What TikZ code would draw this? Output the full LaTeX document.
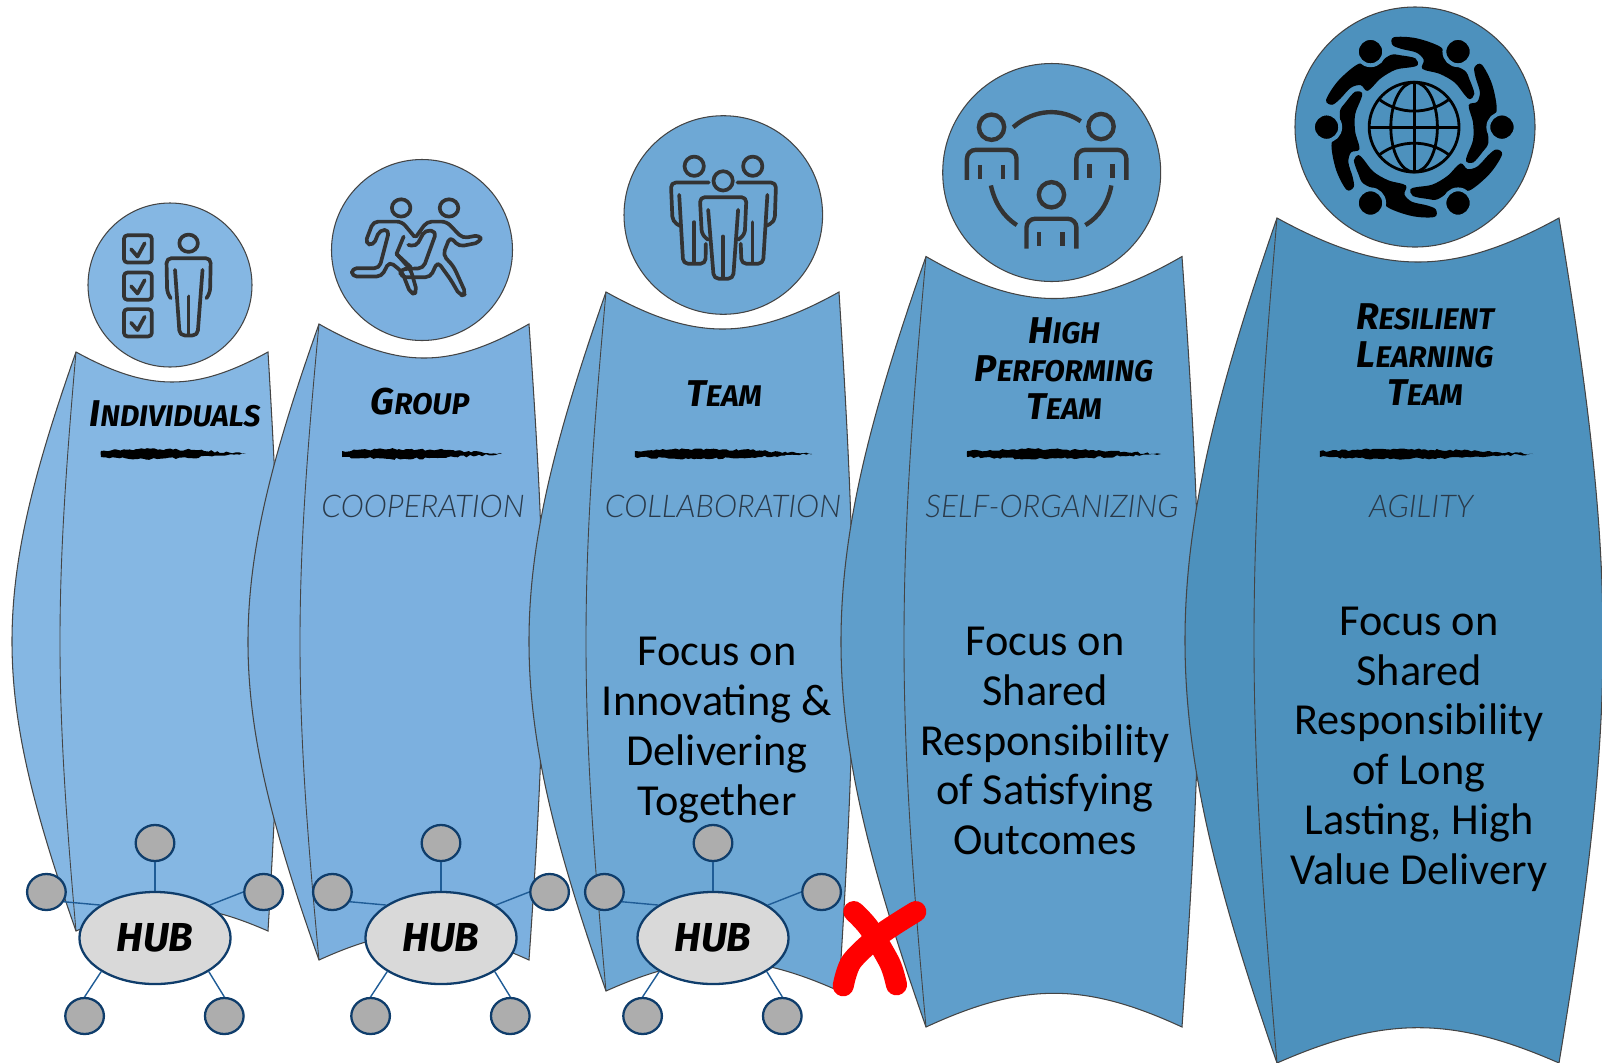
\documentclass[tikz,border=0pt]{standalone}
\usepackage{fontspec}
\usepackage{xcolor}
\usepackage{tikz}
\usetikzlibrary{shapes.geometric,decorations.pathmorphing}
\setmainfont{Carlito}
\newfontfamily\brushfont{Fira Sans}
\newfontfamily\lightfont{Lato Light}
\definecolor{panelA}{HTML}{85B7E3}
\definecolor{panelB}{HTML}{7CB0DF}
\definecolor{panelC}{HTML}{6EA8D5}
\definecolor{panelD}{HTML}{5F9ECB}
\definecolor{panelE}{HTML}{4D91BD}
\definecolor{edge}{HTML}{444444}
\definecolor{navy}{HTML}{0F3D6B}
\definecolor{spoke}{HTML}{1F5C96}
\definecolor{hubfill}{HTML}{D9D9D9}
\definecolor{satfill}{HTML}{ADADAD}
\definecolor{icon}{HTML}{333333}
\definecolor{subtext}{HTML}{2A3A4A}
\tikzset{
  wrap/.style={draw=edge, line width=0.3pt, fill=#1},
  fold/.style={draw=edge, line width=0.25pt},
  disc/.style={draw=edge, line width=0.3pt, fill=#1},
  iconline/.style={draw=icon, line width=1.05pt, line cap=round, line join=round},
  iconbody/.style={iconline, rounded corners=1.4pt},
  iconfat/.style={draw=icon, line width=1.25pt},
  globe/.style={draw=black, line width=0.8pt},
  armshape/.style={fill=black},
  fighead/.style={draw=panelE, line width=1.1pt, fill=black},
  hubnode/.style={ellipse, draw=navy, line width=0.65pt, fill=hubfill, inner sep=0pt,
    minimum width=1.51cm, minimum height=0.92cm, font=\brushfont\bfseries\itshape\fontsize{11.5}{12}\selectfont},
  satnode/.style={ellipse, draw=navy, line width=0.65pt, fill=satfill, inner sep=0pt,
    minimum width=0.386cm, minimum height=0.36cm},
  spokeline/.style={draw=spoke, line width=0.4pt},
  ttl/.style={align=center, text=black, inner sep=0pt, font=\brushfont\bfseries\itshape\fontsize{10.6}{10.8}\selectfont},
  sub/.style={text=subtext, inner sep=0pt, font=\lightfont\itshape\fontsize{8.9}{11}\selectfont},
  body/.style={align=center, text=black, inner sep=0pt, font=\fontsize{12.6}{14.15}\selectfont},
  redx/.style={draw=red, line width=6pt, line cap=round}
}
\newcommand{\brushcaps}[2]{#1{\fontsize{8.5}{10.8}\selectfont #2}}
% style, x left, x right, y top, y bottom, left bulge, fold bulge, right bulge, dip
\newcommand{\panel}[9]{%
  \draw[wrap=#1] (#2,#4)
    .. controls ({#2+(#3-#2)*.38},{#4+#9*4/3}) and ({#3-(#3-#2)*.38},{#4+#9*4/3}) .. (#3,#4)
    .. controls ({#3+(#8-#3)*4/3},{#4+(#5-#4)*.42}) and ({#3+(#8-#3)*4/3},{#5-(#5-#4)*.42}) .. (#3,#5)
    .. controls ({#3-(#3-#2)*.38},{#5-#9*1.07}) and ({#2+(#3-#2)*.38},{#5-#9*1.07}) .. (#2,#5)
    .. controls ({#2+(#6-#2)*4/3},{#5-(#5-#4)*.42}) and ({#2+(#6-#2)*4/3},{#4+(#5-#4)*.42}) .. cycle;
  \draw[fold] (#2,#4)
    .. controls ({#2+(#7-#2)*4/3},{#4+(#5-#4)*.42}) and ({#2+(#7-#2)*4/3},{#5-(#5-#4)*.42}) .. (#2,#5);
}
% the rough black stroke under a title
\newcommand{\scribble}[2]{%
  \fill[black, decorate, decoration={random steps, segment length=0.9pt, amplitude=0.3pt}]
    (#1,451) -- ({#1+(#2-#1)*.3},449) -- ({#1+(#2-#1)*.65},450) -- (#2,454)
    -- ({#1+(#2-#1)*.6},458) -- ({#1+(#2-#1)*.3},459) -- (#1,457) -- cycle;
}
% hub name, x of the hub
\newcommand{\hubstar}[2]{%
  \node[hubnode] (hub#1) at (#2,938) {HUB};
  \node[satnode] (top#1) at (#2,843) {};
  \node[satnode] (left#1) at ({#2-108.6},892) {};
  \node[satnode] (right#1) at ({#2+108.6},892) {};
  \node[satnode] (lowl#1) at ({#2-70.4},1016) {};
  \node[satnode] (lowr#1) at ({#2+69.3},1016) {};
  \draw[spokeline] (top#1.270) -- (hub#1.90);
  \draw[spokeline] (left#1.-29) -- (hub#1.149);
  \draw[spokeline] (right#1.180) -- (hub#1.31);
  \draw[spokeline] (lowl#1.90) -- (hub#1.212);
  \draw[spokeline] (lowr#1.90) -- (hub#1.328);
}
% one arm of the ring round the globe, turned by #1
\newcommand{\ringarm}[1]{%
  \fill[armshape, rotate around={#1:(433,382)}] plot[smooth cycle, tension=.55] coordinates {(372,112) (440,115) (515,143) (535,185)
    (585,212) (600,240) (614,282) (600,298) (585,285) (555,248) (510,222) (458,207) (462,180) (440,158) (395,147) (368,135)};
}
\begin{document}
\begin{tikzpicture}[x=0.01cm,y=-0.01cm]
  \useasboundingbox (0,0) rectangle (1602,1063);
  \pgfmathsetseed{7}

  \panel{panelA}{76}{268}{352}{931}{12}{60}{279}{30}
  \panel{panelB}{319}{529}{324}{960}{248}{300}{543}{34}
  \panel{panelC}{606}{839}{292}{991}{529}{586}{853}{37}
  \panel{panelD}{926}{1182}{256.5}{1027}{841}{904}{1199}{42}
  \panel{panelE}{1277}{1559}{218}{1063}{1185}{1254}{1603}{44}

  \draw[disc=panelA] (170,285) circle (82);
  \draw[disc=panelB] (422,250) circle (90.5);
  \draw[disc=panelC] (723.3,215) circle (99.3);
  \draw[disc=panelD] (1051.7,172.5) circle (109);
  \draw[disc=panelE] (1415,127) circle (120);

  % checklist and person
  \begin{scope}[shift={(0,180)},x=0.00357cm,y=-0.00333cm]
    \draw[iconline, rounded corners=1pt] (347,166) rectangle (425,248);
    \draw[iconline, rounded corners=1pt] (347,278) rectangle (425,360);
    \draw[iconline, rounded corners=1pt] (347,388) rectangle (425,470);
    \draw[iconline] (367,208) -- (385,230) -- (405,190);
    \draw[iconline] (367,319) -- (385,341) -- (405,301);
    \draw[iconline] (367,429) -- (385,451) -- (405,411);
    \draw[iconline] (528,190) circle (26);
    \draw[iconbody] (478,355) -- (468,340) -- (466,235) -- (590,235) -- (588,340) -- (578,355);
    \draw[iconbody] (490,270) -- (503,467) -- (553,467) -- (567,270);
    \draw[iconline] (528,350) -- (528,465);
  \end{scope}

  % two runners
  \begin{scope}[shift={(0,180)},x=0.00357cm,y=-0.00333cm]
    \draw[iconline] (1123,84) circle (26);
    \draw[iconline] (1257,84) circle (26);
    \draw[iconbody] (1160,170) -- (1125,125) -- (1045,125) -- (1022,190) -- (1045,197) -- (1063,150) -- (1090,150)
      -- (1062,265) -- (985,265) -- (985,290) -- (1068,290) -- (1090,245) -- (1125,275) -- (1150,343) -- (1168,338) -- (1150,270) -- (1110,222);
    \draw[iconbody] (1165,170) -- (1195,125) -- (1250,125) -- (1295,175) -- (1345,165) -- (1345,187) -- (1285,200) -- (1260,170)
      -- (1240,225) -- (1270,260) -- (1305,343) -- (1288,348) -- (1262,300) -- (1225,245) -- (1205,292) -- (1122,292) -- (1120,268)
      -- (1185,265) -- (1222,155) -- (1190,150) -- (1165,200) -- (1143,195);
    \draw[iconline] (1130,170) -- (1110,222) -- (1150,262);
  \end{scope}

  % three people standing
  \begin{scope}[shift={(600,100)},x=0.00333cm,y=-0.00333cm]
    \draw[iconline] (283,199) circle (29);
    \draw[iconline] (459,199) circle (29);
    \draw[iconline] (370,243) circle (29);
    \draw[iconbody] (327,248) -- (213,248) -- (218,365) -- (240,378);
    \draw[iconbody] (238,285) -- (250,492) -- (317,492) -- (318,432);
    \draw[iconline] (283,367) -- (283,490);
    \draw[iconbody] (413,248) -- (529,248) -- (525,365) -- (500,378);
    \draw[iconbody] (503,285) -- (490,492) -- (425,492) -- (423,432);
    \draw[iconline] (458,367) -- (458,490);
    \draw[iconbody] (325,420) -- (306,405) -- (300,292) -- (440,292) -- (435,405) -- (415,420);
    \draw[iconbody] (325,330) -- (342,537) -- (400,537) -- (415,330);
    \draw[iconline] (370,410) -- (370,535);
  \end{scope}

  % three people in a ring
  \begin{scope}[shift={(920,50)},x=0.00333cm,y=-0.00333cm]
    \draw[iconfat] (215,232) circle (38);
    \draw[iconfat] (544,230) circle (38);
    \draw[iconfat] (395,435) circle (38);
    \draw[iconfat, rounded corners=2.5pt] (141,390) -- (141,300) -- (290,300) -- (290,390);
    \draw[iconfat] (180,345) -- (180,388);
    \draw[iconfat] (249,345) -- (249,388);
    \draw[iconfat, rounded corners=2.5pt] (470,390) -- (470,300) -- (620,300) -- (620,390);
    \draw[iconfat] (509,342) -- (509,385);
    \draw[iconfat] (579,342) -- (579,385);
    \draw[iconfat, rounded corners=2.5pt] (320,597) -- (320,507) -- (470,507) -- (470,597);
    \draw[iconfat] (358,548) -- (358,590);
    \draw[iconfat] (428,548) -- (428,590);
    \draw[iconfat] (280,232) .. controls (345,175) and (425,175) .. (483,214);
    \draw[iconfat] (213,407) .. controls (225,460) and (250,500) .. (291,526);
    \draw[iconfat] (575,407) .. controls (565,460) and (540,500) .. (497,526);
  \end{scope}

  % people round a globe
  \begin{scope}[shift={(1270,0)},x=0.00333cm,y=-0.00333cm]
    \ringarm{0}
    \ringarm{60}
    \ringarm{120}
    \ringarm{180}
    \ringarm{240}
    \ringarm{300}
    \draw[fighead] (302,155) circle (41) (565,155) circle (41) (170,382) circle (41)
      (697,382) circle (41) (302,610) circle (41) (565,610) circle (41);
    \draw[globe] (433,382) circle (135);
    \draw[globe] (433,382) ellipse (70 and 135);
    \draw[globe] (433,247) -- (433,517);
    \draw[globe] (298,382) -- (568,382);
    \draw[globe] (330,300) .. controls (390,345) and (476,345) .. (536,300);
    \draw[globe] (330,464) .. controls (390,419) and (476,419) .. (536,464);
  \end{scope}

  \node[ttl] (titleA) at (175,414) {\brushcaps{I}{NDIVIDUALS}};
  \node[ttl] (titleB) at (420,402) {\brushcaps{G}{ROUP}};
  \node[ttl] (titleC) at (724,394) {\brushcaps{T}{EAM}};
  \node[ttl] (titleD) at (1064,369) {\brushcaps{H}{IGH}\\\brushcaps{P}{ERFORMING}\\\brushcaps{T}{EAM}};
  \node[ttl] (titleE) at (1425,354.5) {\brushcaps{R}{ESILIENT}\\\brushcaps{L}{EARNING}\\\brushcaps{T}{EAM}};

  \scribble{101}{246}
  \scribble{342}{502}
  \scribble{635}{812}
  \scribble{967}{1161}
  \scribble{1320}{1533}

  \node[sub] (subB) at (423,506) {COOPERATION};
  \node[sub] (subC) at (723,506) {COLLABORATION};
  \node[sub] (subD) at (1052,506) {SELF-ORGANIZING};
  \node[sub] (subE) at (1421,506) {AGILITY};

  \node[body] (bodyC) at (717,730) {Focus on\\Innovating \&\\Delivering\\Together};
  \node[body] (bodyD) at (1045,741) {Focus on\\Shared\\Responsibility\\of Satisfying\\Outcomes};
  \node[body] (bodyE) at (1419,749) {Focus on\\Shared\\Responsibility\\of Long\\Lasting, High\\Value Delivery};

  \hubstar{A}{155}
  \hubstar{B}{441}
  \hubstar{C}{713}

  \begin{scope}[shift={(780,860)},x=0.00333cm,y=-0.00333cm]
    \draw[redx] plot[smooth] coordinates {(408,155) (300,225) (215,305) (190,378)};
    \draw[redx] plot[smooth] coordinates {(222,155) (268,205) (330,310) (350,375)};
  \end{scope}
\end{tikzpicture}
\end{document}
